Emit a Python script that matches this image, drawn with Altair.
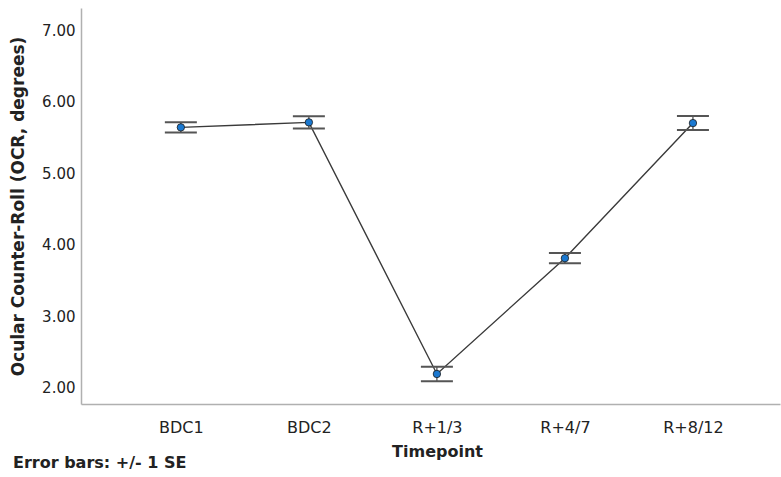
import altair as alt
import pandas as pd

timepoints = ["BDC1", "BDC2", "R+1/3", "R+4/7", "R+8/12"]
means = [5.64, 5.71, 2.19, 3.81, 5.70]
ses = [0.07, 0.085, 0.10, 0.072, 0.098]

df = pd.DataFrame({
    "idx": list(range(len(timepoints))),
    "Timepoint": timepoints,
    "mean": means,
    "se": ses,
})

label_expr = "[" + ",".join("'%s'" % t for t in timepoints) + "][datum.value]"

FONT = "DejaVu Sans"

xscale = alt.Scale(domain=[-0.78, 4.68], nice=False, zero=False)
yscale = alt.Scale(domain=[1.77, 7.31], nice=False, zero=False)

xenc = alt.X("idx:Q", scale=xscale,
             axis=alt.Axis(title="Timepoint", values=list(range(len(timepoints))),
                           labelExpr=label_expr, grid=False, ticks=False,
                           domainColor="#b0b0b0", domainWidth=1.5,
                           labelFont=FONT, labelFontSize=16, labelColor="#222222",
                           labelPadding=15, titleFont=FONT, titleFontSize=16,
                           titleFontWeight="bold", titleColor="#222222",
                           titlePadding=8, titleX=356, titleAnchor="middle"))
yenc = alt.Y("mean:Q", scale=yscale,
             axis=alt.Axis(title="Ocular Counter-Roll (OCR, degrees)",
                           values=[2, 3, 4, 5, 6, 7], format=".2f",
                           grid=False, ticks=False,
                           domainColor="#b0b0b0", domainWidth=1.5,
                           labelFont=FONT, labelFontSize=15, labelColor="#222222",
                           labelPadding=6, titleFont=FONT, titleFontSize=17,
                           titleFontWeight="bold", titleColor="#222222",
                           titlePadding=14))

base = alt.Chart(df).transform_calculate(
    lo="datum.mean - datum.se",
    hi="datum.mean + datum.se",
    xl="datum.idx - 0.125",
    xr="datum.idx + 0.125",
)

line = base.mark_line(color="#3a3a3a", strokeWidth=1.4).encode(x=xenc, y=yenc)

stem = base.mark_rule(color="#444444", strokeWidth=1.2).encode(
    x=alt.X("idx:Q", scale=xscale), y=alt.Y("lo:Q", scale=yscale), y2="hi:Q")

cap_lo = base.mark_rule(color="#555555", strokeWidth=2).encode(
    x=alt.X("xl:Q", scale=xscale), x2="xr:Q", y=alt.Y("lo:Q", scale=yscale))
cap_hi = base.mark_rule(color="#555555", strokeWidth=2).encode(
    x=alt.X("xl:Q", scale=xscale), x2="xr:Q", y=alt.Y("hi:Q", scale=yscale))

pts = base.mark_point(filled=True, shape="circle", size=55, fill="#1a78d0",
                      stroke="#1b1b1b", strokeWidth=0.8, opacity=1).encode(
    x=alt.X("idx:Q", scale=xscale), y=alt.Y("mean:Q", scale=yscale))

note = alt.Chart(pd.DataFrame({"t": ["Error bars: +/- 1 SE"]})).mark_text(
    font=FONT, fontSize=16, fontWeight="bold", color="#222222",
    align="left", baseline="middle").encode(
    text="t:N", x=alt.value(-68), y=alt.value(455))

chart = alt.layer(line, stem, cap_lo, cap_hi, pts, note).properties(
    width=699, height=396,
    autosize=alt.AutoSizeParams(type="none"),
    padding={"left": 81, "top": 8, "right": 1, "bottom": 73},
    background="white",
).configure_view(stroke=None)

chart.save("out.html", embed_options={"renderer": "svg", "actions": False})
